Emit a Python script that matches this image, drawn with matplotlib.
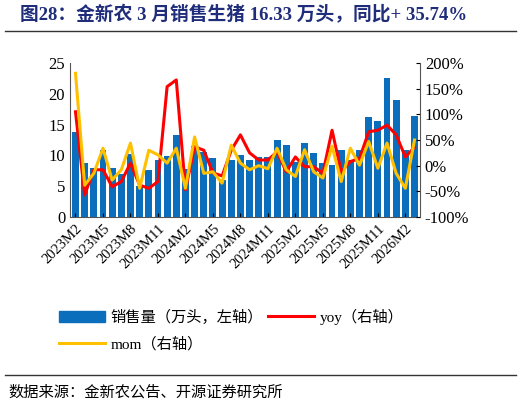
import numpy as np
import matplotlib
matplotlib.use("Agg")
import matplotlib.pyplot as plt
from matplotlib.lines import Line2D
from matplotlib.patches import Patch

plt.rcParams['font.family'] = ['Liberation Serif', 'Noto Sans CJK SC']

# monthly labels 2023M2 .. 2026M3
months = []
y, m = 2023, 2
for _ in range(38):
    months.append(f"{y}M{m}")
    m += 1
    if m > 12:
        y, m = y + 1, 1

sales = [13.8, 8.8, 7.9, 10.8, 7.9, 7.0, 10.3, 5.0, 7.6, 9.3, 9.9, 13.3, 7.8,
         11.5, 10.5, 9.5, 6.0, 9.3, 10.0, 9.3, 9.7, 9.8, 12.5, 11.7, 9.0, 12.0,
         10.4, 8.8, 8.5, 10.9, 9.2, 10.9, 16.3, 15.6, 22.5, 19.0, 10.9, 16.33]
yoy = [105, -57, -8, -8, -41, -31, 5, -38, -44, -31, 154, 167, -47, 37, 30,
       -14, -20, 30, 60, 25, 11, 11, 27, -12, 17, -2, -2, -15, 69, -12, 8, 14,
       66, 69, 79, 60, 17, 35.74]
mom = [180, -38, -15, 34, -28, -8, 44, -44, 30, 21, 5, 34, -44, 56, -15, -12,
       -34, 40, 5, -8, 0, -6, 34, -8, -21, 31, -12, -24, 38, -31, 34, 1, 47,
       -5, 44, -15, -44, 50]

fig = plt.figure(figsize=(5.22, 4.05), dpi=100)
ax = fig.add_axes([70/522, 1-217/405, 350/522, 154/405])
x = np.arange(len(months))
ax.bar(x, sales, width=0.75, color='#0a6ebd', zorder=1)
ax.set_ylim(0, 25)
ax.set_yticks(range(0, 26, 5))
ax.set_xlim(-0.6, len(months) - 0.4)
ax.set_xticks(x[::3])
ax.set_xticklabels(months[::3], rotation=45, ha='right', rotation_mode='anchor', fontsize=10.5)
ax.tick_params(axis='y', labelsize=12, length=0)
ax.tick_params(axis='x', length=3, direction='in')
for s in ['top', 'right']:
    ax.spines[s].set_visible(False)
ax.spines['left'].set_color('#555555')
ax.spines['bottom'].set_color('#555555')

ax2 = ax.twinx()
ax2.plot(x, yoy, color='#ff0000', lw=2.2, zorder=3)
ax2.plot(x, mom, color='#ffc000', lw=2.2, zorder=4)
ax2.set_ylim(-100, 200)
ax2.set_yticks(range(-100, 201, 50))
ax2.set_yticklabels([f"{v}%" for v in range(-100, 201, 50)], fontsize=12)
ax2.tick_params(axis='y', length=3, direction='in')
for s in ['top', 'left', 'bottom']:
    ax2.spines[s].set_visible(False)
ax2.spines['right'].set_color('#555555')

fig.text(20/522, 1-15/405, "图28：金新农 3 月销售生猪 16.33 万头，同比+ 35.74%",
         fontsize=13.5, fontweight='bold', color='#1f2d7a', va='center')
fig.add_artist(Line2D([5/522, 516/522], [1-31/405]*2, color='#333333', lw=1))
fig.add_artist(Line2D([5/522, 516/522], [1-375/405]*2, color='#333333', lw=1))
fig.text(8/522, 1-392/405, "数据来源：金新农公告、开源证券研究所", fontsize=11, va='center')

# column-major fill: order so rows read bar, yoy / mom
handles = [Patch(color='#0a6ebd'), Line2D([], [], color='#ffc000', lw=2.2),
           Line2D([], [], color='#ff0000', lw=2.2)]
labels = ["销售量（万头，左轴）", "mom（右轴）", "yoy（右轴）"]
fig.legend(handles, labels, ncol=2, frameon=False, loc='upper left',
           bbox_to_anchor=(45/522, 1-295/405), fontsize=11,
           handlelength=3, columnspacing=0.3, handletextpad=0.4, labelspacing=0.8)

fig.savefig("out.png", dpi=100)
